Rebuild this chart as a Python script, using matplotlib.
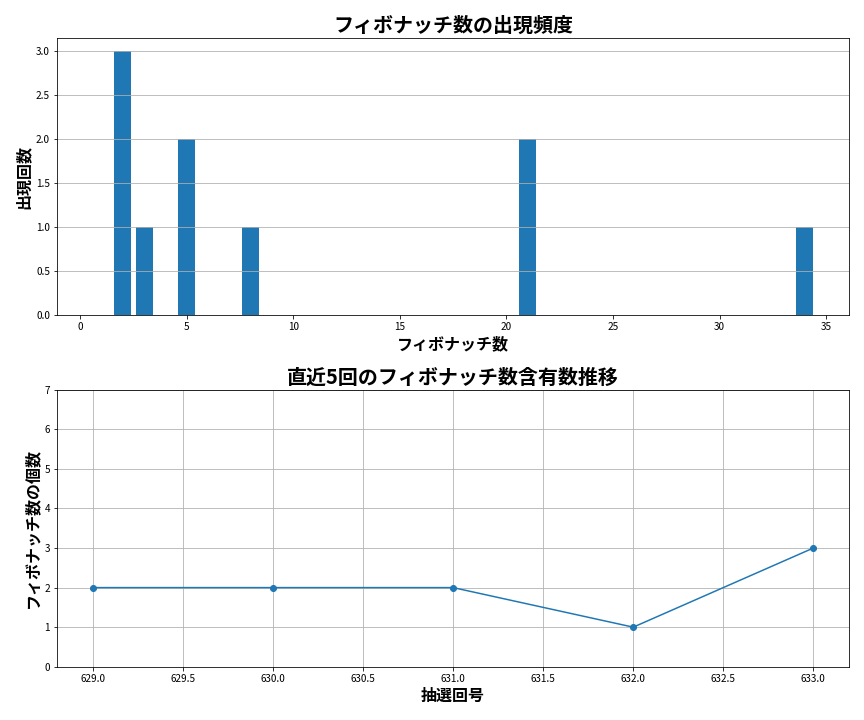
import matplotlib
matplotlib.use('Agg')
import matplotlib.pyplot as plt

plt.rcParams['font.family'] = ['Noto Sans CJK JP', 'DejaVu Sans']

# 出現頻度
fib_nums = [1, 2, 3, 5, 8, 13, 21, 34]
fib_counts = [0, 3, 1, 2, 1, 0, 2, 1]

# 直近5回
draw_nos = [629, 630, 631, 632, 633]
fib_in_draw = [2, 2, 2, 1, 3]

fig, (ax1, ax2) = plt.subplots(2, 1, figsize=(12, 10), dpi=72)

ax1.bar(fib_nums, fib_counts, color='#1f77b4')
ax1.set_title('フィボナッチ数の出現頻度', fontsize=20, fontweight='bold')
ax1.set_xlabel('フィボナッチ数', fontsize=16, fontweight='bold')
ax1.set_ylabel('出現回数', fontsize=16, fontweight='bold')
ax1.grid(axis='y')

ax2.plot(draw_nos, fib_in_draw, marker='o')
ax2.set_title('直近5回のフィボナッチ数含有数推移', fontsize=20, fontweight='bold')
ax2.set_xlabel('抽選回号', fontsize=16, fontweight='bold')
ax2.set_ylabel('フィボナッチ数の個数', fontsize=16, fontweight='bold')
ax2.set_ylim(0, 7)
ax2.grid(True)

plt.subplots_adjust(left=0.066, right=0.983, top=0.947, bottom=0.074, hspace=0.27)
plt.savefig('out.png')
